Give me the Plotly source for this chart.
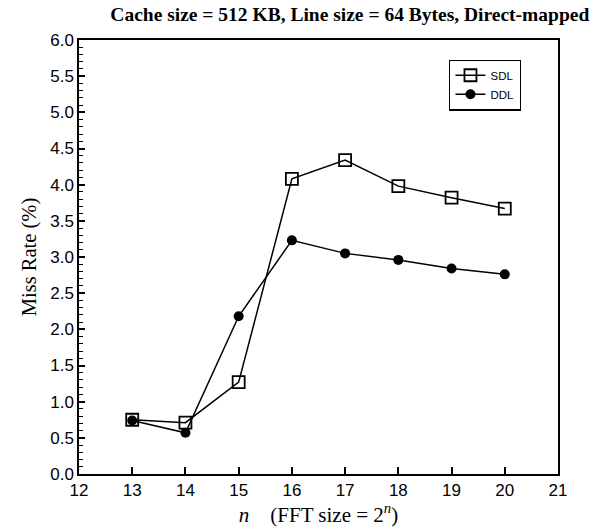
import plotly.graph_objects as go

n_values = [13, 14, 15, 16, 17, 18, 19, 20]
sdl = [0.75, 0.71, 1.27, 4.08, 4.34, 3.98, 3.82, 3.67]
ddl = [0.74, 0.57, 2.18, 3.23, 3.05, 2.96, 2.84, 2.76]

fig = go.Figure()
fig.add_trace(go.Scatter(
    x=n_values, y=sdl, name="SDL", mode="lines+markers",
    line=dict(color="black", width=1.5),
    marker=dict(symbol="square-open", size=12, color="black", line=dict(width=1.8, color="black")),
))
fig.add_trace(go.Scatter(
    x=n_values, y=ddl, name="DDL", mode="lines+markers",
    line=dict(color="black", width=1.5),
    marker=dict(symbol="circle", size=10, color="black"),
))

fig.update_layout(
    width=600, height=531,
    margin=dict(l=79, r=42, t=40, b=54),
    paper_bgcolor="white", plot_bgcolor="white",
    title=dict(
        text="<b>Cache size = 512 KB, Line size = 64 Bytes, Direct-mapped</b>",
        font=dict(family="Liberation Serif", size=19.5, color="black"),
        x=0.583, xanchor="center", y=0.987, yanchor="top",
    ),
    legend=dict(
        x=0.773, y=0.955, xanchor="left", yanchor="top",
        bordercolor="black", borderwidth=1.2, bgcolor="white",
        font=dict(family="Liberation Sans", size=11.5, color="black"),
        tracegroupgap=0, itemwidth=30,
    ),
    showlegend=True,
)

fig.update_xaxes(
    range=[12, 21], tickmode="linear", tick0=12, dtick=1,
    ticks="inside", ticklen=7, tickwidth=1.5, tickcolor="black",
    showline=True, linecolor="black", linewidth=1.5, mirror=True,
    showgrid=False, zeroline=False,
    tickfont=dict(family="Liberation Sans", size=17, color="black"),
    title=dict(text="<i>n</i>    (FFT size = 2<sup><i>n</i></sup>)",
               font=dict(family="Liberation Serif", size=21, color="black"), standoff=4),
)
fig.update_yaxes(
    range=[0, 6], tickmode="linear", tick0=0, dtick=0.5, tickformat=".1f",
    ticks="inside", ticklen=6, tickwidth=1.5, tickcolor="black",
    minor=dict(dtick=0.1, ticks="inside", ticklen=4, tickwidth=1.2, tickcolor="black", showgrid=False),
    showline=True, linecolor="black", linewidth=1.5, mirror=True,
    showgrid=False, zeroline=False,
    tickfont=dict(family="Liberation Sans", size=17, color="black"),
    title=dict(text="Miss Rate (%)",
               font=dict(family="Liberation Serif", size=20.5, color="black"), standoff=8),
)

fig.write_html("out.html")
